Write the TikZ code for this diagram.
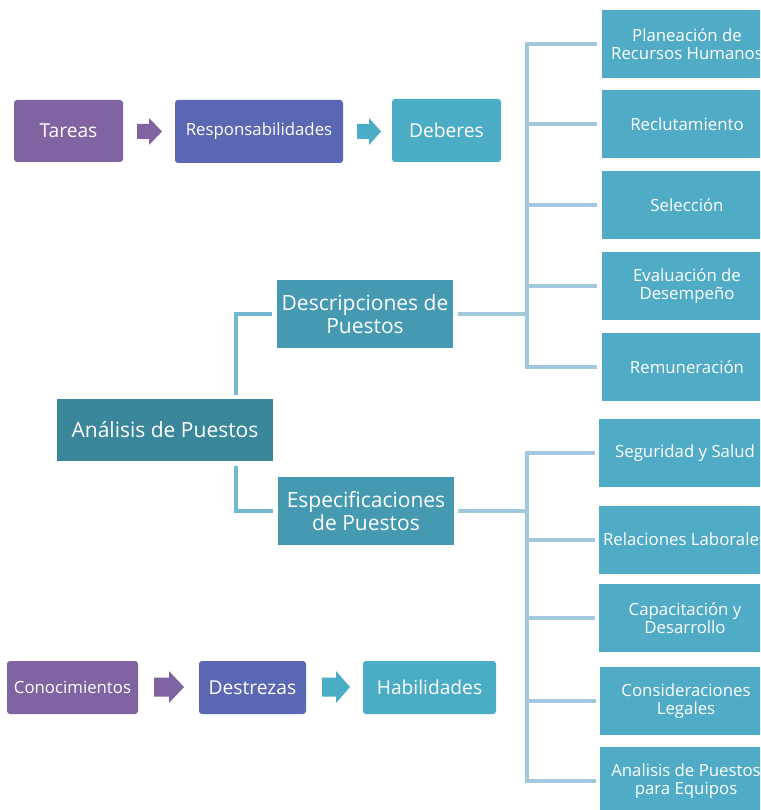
\documentclass[tikz,border=0pt]{standalone}
\usepackage{fontspec}
\setmainfont{Open Sans}
\definecolor{cPurple}{HTML}{8064A2}
\definecolor{cIndigo}{HTML}{5A67B2}
\definecolor{cTeal}{HTML}{4BACC6}
\definecolor{cDark}{HTML}{3A879B}
\definecolor{cMid}{HTML}{4599B1}
\definecolor{cRight}{HTML}{50ABC7}
\definecolor{cLink}{HTML}{74B7D0}
\definecolor{cBrack}{HTML}{A2C9DB}
% block arrow: colour, left x, centre y, length, head length, shaft half-height, head half-height
\newcommand\blockarrow[7]{%
  \fill[#1] (#2,{#3-#6}) -- ({#2+#4-#5},{#3-#6}) -- ({#2+#4-#5},{#3-#7})
    -- ({#2+#4},#3) -- ({#2+#4-#5},{#3+#7}) -- ({#2+#4-#5},{#3+#6})
    -- (#2,{#3+#6}) -- cycle;}
\begin{document}
\begin{tikzpicture}[x=1pt,y=-1pt,
  box/.style={text=white, align=center, inner sep=0pt},
  chip/.style={box, rounded corners=3pt},
  sq/.style={box},
  fA/.style={font=\fontsize{19.2}{22}\selectfont},
  fB/.style={font=\fontsize{16.8}{18}\selectfont},
  fC/.style={font=\fontsize{21}{23}\selectfont},
  conn/.style={draw=cLink, line width=4pt},
  brk/.style={draw=cBrack, line width=4pt},
]
\clip (0,0) rectangle (760,810);
\fill[white] (0,0) rectangle (760,810);

% top row
\node[chip, fA, fill=cPurple, minimum width=109pt, minimum height=62pt] (tareas) at (68.5,131) {Tareas};
\node[chip, fB, fill=cIndigo, minimum width=168pt, minimum height=63pt] (resp) at (259,131.5) {Responsabilidades};
\node[chip, fA, fill=cTeal, minimum width=109pt, minimum height=63pt] (deberes) at (446.5,130.5) {Deberes};
\blockarrow{cPurple}{137}{131.5}{25}{13}{7.5}{13.5}
\blockarrow{cTeal}{357}{131.5}{24}{12}{7.5}{13.5}

% bottom row
\node[chip, fB, fill=cPurple, minimum width=131pt, minimum height=53pt] (conoc) at (72.5,687.5) {Conocimientos};
\node[chip, fA, fill=cIndigo, minimum width=107pt, minimum height=53pt] (destr) at (252.5,687.5) {Destrezas};
\node[chip, fA, fill=cTeal, minimum width=133pt, minimum height=53pt] (habil) at (429.5,687.5) {Habilidades};
\blockarrow{cPurple}{154}{687}{30}{15}{9.5}{16}
\blockarrow{cTeal}{322}{687}{28}{14}{9.5}{16}

% central hierarchy
\node[sq, fC, fill=cDark, minimum width=216pt, minimum height=62pt] (analisis) at (165,430) {Análisis de Puestos};
\node[sq, fC, fill=cMid, minimum width=176pt, minimum height=68pt] (desc) at (365,314) {Descripciones de\\Puestos};
\node[sq, fC, fill=cMid, minimum width=176pt, minimum height=68pt] (espec) at (366,511) {Especificaciones\\de Puestos};

% right column, upper group
\foreach \n/\y/\t in {plan/44/{Planeación de\\Recursos Humanos},
                      recl/124/{Reclutamiento},
                      sel/205/{Selección},
                      eval/286/{Evaluación de\\Desempeño},
                      rem/367/{Remuneración}}
  \node[sq, fB, fill=cRight, minimum width=170pt, minimum height=68pt] (\n) at (687,\y) {\t};

% right column, lower group
\foreach \n/\x/\y/\t in {seg/685/453/{Seguridad y Salud},
                         rel/685/539.5/{Relaciones Laborales},
                         cap/685/618/{Capacitación y\\Desarrollo},
                         leg/686/701/{Consideraciones\\Legales},
                         equ/686/781/{Analisis de Puestos\\para Equipos}}
  \node[sq, fB, fill=cRight, minimum width=172pt, minimum height=68pt] (\n) at (\x,\y) {\t};

% connectors from the central box
\coordinate (jx) at (236,0);
\draw[conn, shorten <=4pt, shorten >=5pt] (analisis.north -| jx) |- (desc.west);
\draw[conn, shorten <=5pt, shorten >=5pt] (analisis.south -| jx) |- (espec.west);

% brackets to the right column
\coordinate (bx) at (527,0);
\draw[brk, shorten <=5pt] (desc.east) -- (desc.east -| bx);
\foreach \n in {plan,recl,sel,eval,rem}
  \draw[brk, shorten >=5pt] (desc.east -| bx) |- (\n.west);
\draw[brk, shorten <=4pt] (espec.east) -- (espec.east -| bx);
\foreach \n in {seg,rel,cap,leg,equ}
  \draw[brk, shorten >=4pt] (espec.east -| bx) |- (\n.west);
\end{tikzpicture}
\end{document}
